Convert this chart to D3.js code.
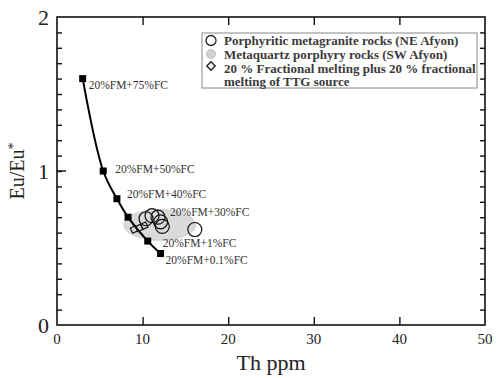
<!DOCTYPE html>
<html>
<head>
<meta charset="utf-8">
<script src="https://cdn.jsdelivr.net/npm/d3@7"></script>
<style>
  body { margin: 0; background: #fff; }
  svg text { font-family: "Liberation Serif", Times, "Times New Roman", serif; fill: #222; }
</style>
</head>
<body>
<div id="chart"></div>
<script>
var svgWidth = 497;
var svgHeight = 378;

var margin = { top: 17, right: 12, bottom: 53, left: 57 };
var chartWidth = svgWidth - margin.left - margin.right;
var chartHeight = svgHeight - margin.top - margin.bottom;

// model curve: 20% FM + x% FC
var modelTh = [3.0, 5.4, 7.0, 8.3, 10.6, 12.1];
var modelEu = [1.6, 1.0, 0.82, 0.70, 0.545, 0.464];
var modelLabels = ["20%FM+75%FC", "20%FM+50%FC", "20%FM+40%FC", "20%FM+30%FC", "20%FM+1%FC", "20%FM+0.1%FC"];
// label offsets in px from the point
var labelDx = [6, 12, 10, 42, 15, 5];
var labelDy = [6, -2, -5, -5, 2, 6];

// porphyritic metagranite rocks (NE Afyon)
var graniteTh = [10.4, 11.1, 11.8, 12.1, 12.3, 16.1];
var graniteEu = [0.69, 0.71, 0.70, 0.67, 0.64, 0.62];

// 20 % fractional melting diamonds
var meltTh = [9.0, 9.6, 10.2];
var meltEu = [0.62, 0.63, 0.645];

// metaquartz porphyry field (ellipse)
var fieldCenter = [12.0, 0.65];
var fieldRadius = [4.2, 0.1];

var xTicks = [0, 10, 20, 30, 40, 50];
var yTicks = [0, 1, 2];

var legendLabels = [
  "Porphyritic metagranite rocks (NE Afyon)",
  "Metaquartz porphyry rocks (SW Afyon)",
  "20 % Fractional melting plus 20 % fractional",
  "melting of TTG source"
];

var svg = d3.select("#chart").append("svg")
  .attr("width", svgWidth)
  .attr("height", svgHeight);

var g = svg.append("g")
  .attr("transform", `translate(${margin.left}, ${margin.top})`);

var x = d3.scaleLinear().domain([0, 50]).range([0, chartWidth]);
var y = d3.scaleLinear().domain([0, 2]).range([chartHeight, 0]);

// ellipse field
g.append("ellipse")
  .attr("cx", x(fieldCenter[0]))
  .attr("cy", y(fieldCenter[1]))
  .attr("rx", x(fieldRadius[0]) - x(0))
  .attr("ry", y(0) - y(fieldRadius[1]))
  .attr("fill", "#dadada")
  .attr("stroke", "#c8c8c8")
  .attr("stroke-width", 0.8);

// model curve
var modelData = modelTh.map((d, i) => ({ th: d, eu: modelEu[i], label: modelLabels[i] }));
var line = d3.line()
  .x(d => x(d.th))
  .y(d => y(d.eu))
  .curve(d3.curveCatmullRom);

g.append("path")
  .datum(modelData)
  .attr("d", line)
  .attr("fill", "none")
  .attr("stroke", "#000")
  .attr("stroke-width", 2);

g.selectAll(".sq")
  .data(modelData)
  .enter()
  .append("rect")
  .attr("x", d => x(d.th) - 3.5)
  .attr("y", d => y(d.eu) - 3.5)
  .attr("width", 7)
  .attr("height", 7)
  .attr("fill", "#000");

g.selectAll(".mlab")
  .data(modelData)
  .enter()
  .append("text")
  .attr("x", (d, i) => x(d.th) + labelDx[i])
  .attr("y", (d, i) => y(d.eu) + labelDy[i])
  .attr("dy", "0.35em")
  .style("font-size", "11.5px")
  .style("fill", "#333")
  .text(d => d.label);

// diamonds
var diamond = d3.symbol().type(d3.symbolDiamond2).size(40);
g.selectAll(".dm")
  .data(meltTh)
  .enter()
  .append("path")
  .attr("d", diamond)
  .attr("transform", (d, i) => `translate(${x(d)},${y(meltEu[i])}) rotate(20)`)
  .attr("fill", "none")
  .attr("stroke", "#111")
  .attr("stroke-width", 1.2);

// circles
g.selectAll(".ci")
  .data(graniteTh)
  .enter()
  .append("circle")
  .attr("cx", d => x(d))
  .attr("cy", (d, i) => y(graniteEu[i]))
  .attr("r", 7)
  .attr("fill", "none")
  .attr("stroke", "#111")
  .attr("stroke-width", 1.2);

// frame
g.append("rect")
  .attr("width", chartWidth)
  .attr("height", chartHeight)
  .attr("fill", "none")
  .attr("stroke", "#111")
  .attr("stroke-width", 1.6);

// ticks
var xAxisB = d3.axisBottom(x).tickValues(xTicks.slice(1, -1)).tickSizeInner(-8).tickSizeOuter(0).tickFormat("");
var xAxisT = d3.axisTop(x).tickValues(xTicks.slice(1, -1)).tickSizeInner(-8).tickSizeOuter(0).tickFormat("");
var minorY = d3.range(1, 20).map(d => d / 10);
var yAxisL = d3.axisLeft(y).tickValues(minorY).tickSize(-5).tickFormat("");
var yAxisR = d3.axisRight(y).tickValues(minorY).tickSize(-5).tickFormat("");

g.append("g").attr("class", "axis").attr("transform", `translate(0,${chartHeight})`).call(xAxisB);
g.append("g").attr("class", "axis").call(xAxisT);
g.append("g").attr("class", "axis").call(yAxisL);
g.append("g").attr("class", "axis").attr("transform", `translate(${chartWidth},0)`).call(yAxisR);
g.selectAll(".axis .domain").remove();
g.selectAll(".axis line").attr("stroke", "#111").attr("stroke-width", 1.4);

// major y tick at 1
g.append("line")
  .attr("x1", 0).attr("x2", 9)
  .attr("y1", y(1)).attr("y2", y(1))
  .attr("stroke", "#111").attr("stroke-width", 1.4);

// tick labels
g.selectAll(".xl")
  .data(xTicks)
  .enter()
  .append("text")
  .attr("x", d => x(d))
  .attr("y", chartHeight + 19)
  .attr("text-anchor", "middle")
  .style("font-size", "15px")
  .text(d => d);

g.selectAll(".yl")
  .data(yTicks)
  .enter()
  .append("text")
  .attr("x", -8)
  .attr("y", d => y(d))
  .attr("dy", "0.35em")
  .attr("text-anchor", "end")
  .style("font-size", "22px")
  .text(d => d);

// axis titles
svg.append("text")
  .attr("x", margin.left + chartWidth / 2)
  .attr("y", svgHeight - 8)
  .attr("text-anchor", "middle")
  .style("font-size", "22px")
  .text("Th ppm");

var yt = svg.append("text")
  .attr("transform", `translate(24, ${margin.top + y(1.0)}) rotate(-90)`)
  .attr("text-anchor", "middle")
  .style("font-size", "20px");
yt.append("tspan").text("Eu/Eu");
yt.append("tspan").attr("dy", "-0.45em").style("font-size", "14px").text("*");

// legend
var legend = svg.append("g").attr("transform", "translate(202, 33)");
legend.append("rect")
  .attr("width", 275)
  .attr("height", 55)
  .attr("fill", "#fff")
  .attr("stroke", "#888")
  .attr("stroke-width", 1);

var rowY = [7.5, 21, 35, 48.5];
legend.selectAll(".lt")
  .data(legendLabels)
  .enter()
  .append("text")
  .attr("x", 22)
  .attr("y", (d, i) => rowY[i])
  .attr("dy", "0.35em")
  .style("font-size", "13px")
  .style("font-weight", "bold")
  .style("fill", "#3a3a3a")
  .text(d => d);

legend.append("circle").attr("cx", 9).attr("cy", rowY[0]).attr("r", 5)
  .attr("fill", "none").attr("stroke", "#222").attr("stroke-width", 1.3);
legend.append("circle").attr("cx", 9).attr("cy", rowY[1]).attr("r", 4.5)
  .attr("fill", "#d0d0d0").attr("stroke", "#c0c0c0");
legend.append("path").attr("d", d3.symbol().type(d3.symbolDiamond2).size(45))
  .attr("transform", `translate(9,${rowY[2] - 2})`)
  .attr("fill", "none").attr("stroke", "#222").attr("stroke-width", 1.4);
</script>
</body>
</html>
